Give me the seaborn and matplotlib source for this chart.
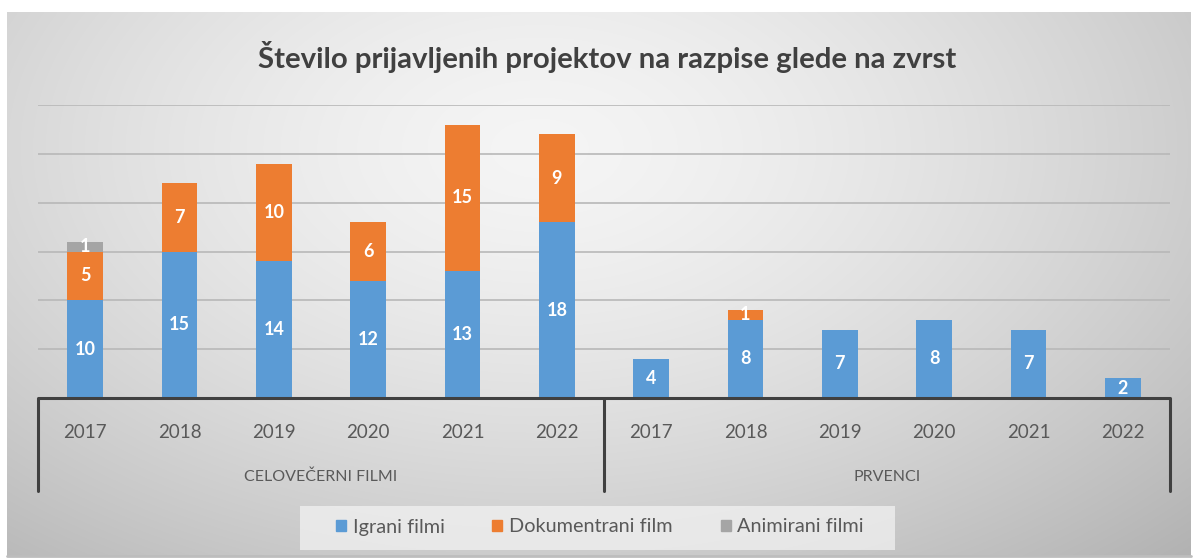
import numpy as np
import pandas as pd
import matplotlib
matplotlib.use("Agg")
import matplotlib.pyplot as plt
import matplotlib.transforms as mtransforms
from matplotlib.patches import Rectangle
import seaborn as sns

# ---- data ----
groups = ["CELOVEČERNI FILMI", "PRVENCI"]
years = ["2017", "2018", "2019", "2020", "2021", "2022"]
igrani = [10, 15, 14, 12, 13, 18, 4, 8, 7, 8, 7, 2]
dokumentarni = [5, 7, 10, 6, 15, 9, 0, 1, 0, 0, 0, 0]
animirani = [1, 0, 0, 0, 0, 0, 0, 0, 0, 0, 0, 0]
series_names = ["Igrani filmi", "Dokumentrani film", "Animirani filmi"]
title = "Število prijavljenih projektov na razpise glede na zvrst"

colors = ["#5B9BD5", "#ED7D31", "#A5A5A5"]

sns.set_theme(style="white")
plt.rcParams["font.family"] = ["Lato", "DejaVu Sans"]

keys = [f"{g}|{y}" for g in groups for y in years]
df = pd.DataFrame({"key": keys, "igrani": igrani, "dok": dokumentarni, "anim": animirani})
df["c1"] = df["igrani"]
df["c2"] = df["igrani"] + df["dok"]
df["c3"] = df["c2"] + df["anim"]

W, H = 1198, 560
fig = plt.figure(figsize=(W / 100, H / 100), dpi=100)
fig.patch.set_facecolor("white")

# gradient background panel
bg = fig.add_axes([7 / W, 1 - 556 / H, (1191 - 7) / W, (556 - 12) / H])
yy, xx = np.mgrid[0:1:300j, 0:1:600j]
r = np.sqrt(((xx - 0.45) / 0.68) ** 2 + ((yy - 0.25) / 0.9) ** 2)
shade = 0.96 - 0.21 * np.clip(r, 0, 1.2) ** 1.5
bg.imshow(np.dstack([shade] * 3), aspect="auto", extent=[0, 1, 1, 0], interpolation="bilinear")
bg.set_axis_off()
bg.plot([0, 1], [0.0, 0.0], color="#bdbdbd", lw=2, transform=bg.transAxes, clip_on=False)

# main axes
ax_left, ax_right = 38 / W, 1170 / W
ax_bottom, ax_top = 1 - 398 / H, 1 - 105 / H
ax = fig.add_axes([ax_left, ax_bottom, ax_right - ax_left, ax_top - ax_bottom])
ax.set_facecolor("none")

order = keys
width = 0.38
sns.barplot(data=df, x="key", y="c3", order=order, color=colors[2], width=width,
            saturation=1, ax=ax, zorder=3, edgecolor="none")
sns.barplot(data=df, x="key", y="c2", order=order, color=colors[1], width=width,
            saturation=1, ax=ax, zorder=4, edgecolor="none")
sns.barplot(data=df, x="key", y="c1", order=order, color=colors[0], width=width,
            saturation=1, ax=ax, zorder=5, edgecolor="none")

ax.set_ylim(0, 30)
ax.set_xlim(-0.5, len(keys) - 0.5)
ax.set_yticks([5, 10, 15, 20, 25, 30])
ax.yaxis.grid(True, color="#b8b8b8", lw=1.2, zorder=0)
ax.set_axisbelow(True)
ax.set_yticklabels([])
ax.tick_params(left=False, bottom=False)
ax.set_xticks(range(len(keys)))
ax.set_xticklabels([])
ax.set_xlabel("")
ax.set_ylabel("")
for s in ax.spines.values():
    s.set_visible(False)

# data labels
for i, row in df.iterrows():
    segs = [(row["igrani"], 0), (row["dok"], row["c1"]), (row["anim"], row["c2"])]
    for v, b in segs:
        if v > 0:
            ax.text(i, b + v / 2, f"{v}", ha="center", va="center", color="white",
                    fontsize=13, fontweight="bold", zorder=6)

trans = mtransforms.blended_transform_factory(ax.transData, ax.transAxes)
# bottom axis line
ax.plot([-0.5, len(keys) - 0.5], [0, 0], color="#404040", lw=2.2, transform=trans,
        clip_on=False, zorder=7, solid_capstyle="butt")
for xv in [-0.5, 5.5, 11.5]:
    ax.plot([xv, xv], [0, -0.318], color="#404040", lw=2.2, transform=trans,
            clip_on=False, zorder=7)

for i, k in enumerate(keys):
    ax.text(i, -0.118, k.split("|")[1], ha="center", va="center", fontsize=13.5,
            color="#595959", transform=trans)
for gi, g in enumerate(groups):
    ax.text(gi * 6 + 2.5, -0.268, g, ha="center", va="center", fontsize=11.5,
            color="#595959", transform=trans)

# title
fig.text(607 / W, 1 - 57 / H, title, ha="center", va="center", fontsize=21.2,
         fontweight="bold", color="#404040")

# legend background box
fig.patches.append(Rectangle((300 / W, 1 - 550 / H), (895 - 300) / W, 44 / H,
                             transform=fig.transFigure, facecolor="#f4f4f4",
                             alpha=0.7, edgecolor="none", zorder=1))

# legend
handles = [plt.Rectangle((0, 0), 1, 1, color=c) for c in colors]
leg = fig.legend(handles, series_names, loc="center", bbox_to_anchor=(600 / W, 1 - 527 / H),
                 ncol=3, frameon=False, fontsize=14.3, handlelength=0.5, handleheight=0.5,
                 handletextpad=0.35, columnspacing=2.4, borderpad=0.5, borderaxespad=0)
for t in leg.get_texts():
    t.set_color("#595959")

fig.savefig("out.png", dpi=100)
